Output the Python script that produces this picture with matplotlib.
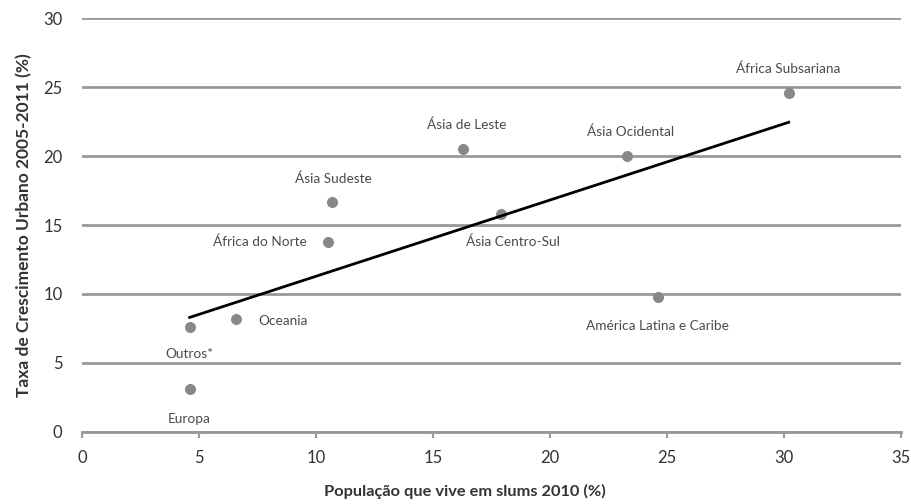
import numpy as np
import matplotlib.pyplot as plt

plt.rcParams['font.family'] = ['Lato', 'DejaVu Sans']

# Regioes
regioes = ["Europa", "Outros*", "Oceania", "África do Norte", "Ásia Sudeste",
           "Ásia de Leste", "Ásia Centro-Sul", "Ásia Ocidental",
           "América Latina e Caribe", "África Subsariana"]
slums = [4.6, 4.6, 6.6, 10.5, 10.7, 16.3, 17.9, 23.3, 24.6, 30.2]
cresc = [3.1, 7.6, 8.2, 13.8, 16.7, 20.5, 15.8, 20.0, 9.8, 24.6]

# deslocamento dos rotulos (pixels) e alinhamento
desloc = [(0, -30), (0, -27), (22, -2), (-21, 0), (1, 23),
          (3, 24), (12, -28), (3, 24), (0, -29), (0, 24)]
alinh = ["center", "center", "left", "right", "center",
         "center", "center", "center", "center", "center"]

fig = plt.figure(figsize=(9.11, 5.04), dpi=100)
ax = fig.add_axes([0.09, 0.143, 0.899, 0.821])

ax.set_xlim(0, 35)
ax.set_ylim(0, 30)
ax.set_xticks(range(0, 36, 5))
ax.set_yticks(range(0, 31, 5))
ax.grid(axis='y', color='#999999', linewidth=2)
ax.set_axisbelow(True)
for s in ['top', 'right', 'left']:
    ax.spines[s].set_visible(False)
ax.spines['bottom'].set_color('#999999')
ax.spines['bottom'].set_linewidth(2)
ax.tick_params(axis='x', colors='#999999', length=4, width=1.5,
               labelcolor='#333333', labelsize=12, pad=9)
ax.tick_params(axis='y', length=0, labelcolor='#333333', labelsize=12, pad=14)

ax.scatter(slums, cresc, s=48, color='#888888', zorder=3)

# linha de tendencia
a, b = np.polyfit(slums, cresc, 1)
xx = np.array([min(slums), max(slums)])
ax.plot(xx, a * xx + b, color='black', linewidth=2, zorder=4)

for nome, x, y, d, h in zip(regioes, slums, cresc, desloc, alinh):
    ax.annotate(nome, (x, y), xytext=d, textcoords='offset pixels',
                ha=h, va='center', fontsize=9.8, color='#4a4a4a')

ax.set_xlabel("População que vive em slums 2010 (%)", fontsize=11.8,
              fontweight='bold', color='#333333')
ax.xaxis.set_label_coords(0.468, -0.125)
ax.set_ylabel("Taxa de Crescimento Urbano 2005-2011 (%)", fontsize=12.5,
              fontweight='bold', color='#333333', labelpad=8)

fig.savefig("out.png", dpi=100)
